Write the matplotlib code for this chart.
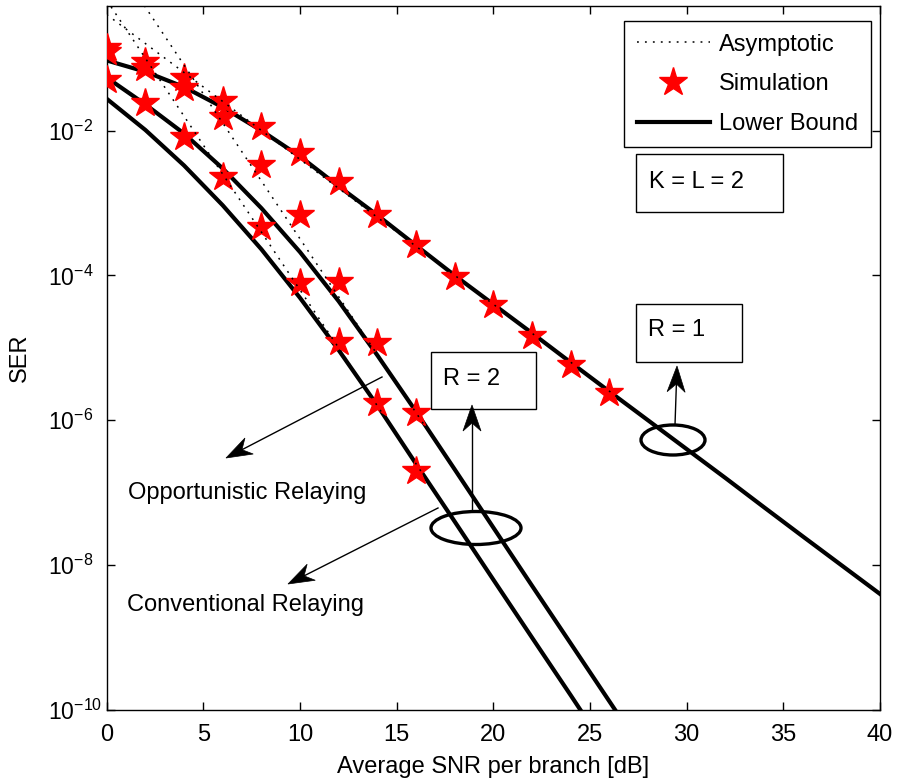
import numpy as np
import matplotlib
matplotlib.use("Agg")
import matplotlib.pyplot as plt
from matplotlib.patches import Ellipse, Rectangle, Polygon
from matplotlib.lines import Line2D
import matplotlib.transforms as mtransforms

plt.rcParams['font.family'] = ['Liberation Sans', 'DejaVu Sans']
plt.rcParams['mathtext.fontset'] = 'custom'
plt.rcParams['mathtext.rm'] = 'Liberation Sans'
plt.rcParams['mathtext.it'] = 'Liberation Sans:italic'
plt.rcParams['mathtext.bf'] = 'Liberation Sans:bold'

# ---------------- data ----------------
# Lower bound curves
snr_r1 = [0, 2, 4, 6, 8, 10, 12, 14, 16, 18, 20, 22, 24, 26, 28, 30, 32, 34, 36, 38, 40]
lb_r1 = [9.3e-2, 6.5e-2, 4.0e-2, 2.1e-2, 1.0e-2, 4.4e-3, 1.7e-3, 6.8e-4, 2.6e-4, 1.0e-4,
         4.0e-5, 1.6e-5, 6.3e-6, 2.5e-6, 1.0e-6, 4.0e-7, 1.6e-7, 6.3e-8, 2.5e-8, 1.0e-8, 4.0e-9]

snr_r2a = [0, 2, 4, 6, 8, 10, 12, 14, 16, 18, 20, 22, 24, 26, 28]
lb_r2a = [5.4e-2, 2.3e-2, 9.1e-3, 3.0e-3, 8.5e-4, 2.1e-4, 4.4e-5, 7.9e-6, 1.32e-6, 2.1e-7,
          3.3e-8, 5.2e-9, 8.3e-10, 1.32e-10, 2.1e-11]

snr_r2b = [0, 2, 4, 6, 8, 10, 12, 14, 16, 18, 20, 22, 24, 26]
lb_r2b = [2.75e-2, 1.02e-2, 3.3e-3, 9.3e-4, 2.3e-4, 4.9e-5, 9.3e-6, 1.6e-6, 2.5e-7, 4.0e-8,
          6.3e-9, 1.0e-9, 1.6e-10, 2.5e-11]

# Asymptotic curves
asym_snr = [0, 10, 20, 30, 40]
asym_r1 = [4.0e-1, 4.0e-3, 4.0e-5, 4.0e-7, 4.0e-9]
asym_snr2 = [0, 10, 20, 30]
asym_r2a = [3.2, 3.2e-4, 3.2e-8, 3.2e-12]
asym_r2b = [6.3e-1, 6.3e-5, 6.3e-9, 6.3e-13]

# Simulation points
sim_snr_r1 = [0, 2, 4, 6, 8, 10, 12, 14, 16, 18, 20, 22, 24, 26]
sim_r1 = [1.38e-1, 8.9e-2, 5.4e-2, 2.6e-2, 1.12e-2, 4.9e-3, 1.95e-3, 6.9e-4, 2.6e-4, 9.5e-5,
          3.9e-5, 1.45e-5, 5.8e-6, 2.4e-6]
sim_snr_r2 = [0, 2, 4, 6, 8, 10, 12, 14, 16]
sim_r2a = [1.23e-1, 7.2e-2, 3.9e-2, 1.55e-2, 3.4e-3, 6.9e-4, 8.1e-5, 1.17e-5, 1.26e-6]
sim_r2b = [5.0e-2, 2.4e-2, 8.1e-3, 2.3e-3, 4.7e-4, 7.9e-5, 1.2e-5, 1.74e-6, 2.0e-7]

xticks = [0, 5, 10, 15, 20, 25, 30, 35, 40]
yticks = [1e-10, 1e-8, 1e-6, 1e-4, 1e-2]
ytick_labels = [r'$10^{-10}$', r'$10^{-8}$', r'$10^{-6}$', r'$10^{-4}$', r'$10^{-2}$']

# ---------------- figure ----------------
W, H = 897, 782
fig = plt.figure(figsize=(W / 100, H / 100), dpi=100)
ax = fig.add_axes([106.7 / W, 1 - 710 / H, (880 - 106.7) / W, (710 - 6) / H])

FS = 17
TFS = 17
YFS = 16.5
dots = (0, (1.2, 4.0))

ax.plot(snr_r1, lb_r1, color='black', lw=3, zorder=2)
ax.plot(snr_r2a, lb_r2a, color='black', lw=3, zorder=2)
ax.plot(snr_r2b, lb_r2b, color='black', lw=3, zorder=2)

star_kw = dict(linestyle='none', marker='*', ms=21, mfc='red', mec='red', zorder=3)
ax.plot(sim_snr_r1, sim_r1, **star_kw)
ax.plot(sim_snr_r2, sim_r2a, **star_kw)
ax.plot(sim_snr_r2, sim_r2b, **star_kw)

ax.plot(asym_snr, asym_r1, color='black', lw=1.1, linestyle=dots, zorder=4)
ax.plot(asym_snr2, asym_r2a, color='black', lw=1.1, linestyle=dots, zorder=4)
ax.plot(asym_snr2, asym_r2b, color='black', lw=1.1, linestyle=dots, zorder=4)

ax.set_yscale('log')
ax.set_xlim(0, 40)
ax.set_ylim(1e-10, 0.525)
ax.set_xticks(xticks)
ax.set_xticklabels([str(t) for t in xticks])
ax.set_yticks(yticks)
ax.set_yticklabels(ytick_labels)
ax.yaxis.set_minor_locator(matplotlib.ticker.NullLocator())
ax.tick_params(direction='in', length=6, width=1, top=True, right=True)
ax.tick_params(axis='x', pad=10, labelsize=TFS)
ax.tick_params(axis='y', pad=(106.7 - 48) * 0.72, labelsize=YFS)
for lbl in ax.get_yticklabels():
    lbl.set_horizontalalignment('left')
    lbl.set_verticalalignment('center_baseline')
for s in ax.spines.values():
    s.set_linewidth(1)
ax.set_xlabel('Average SNR per branch [dB]', fontsize=FS, va='center')
ax.xaxis.set_label_coords(0.5, (710 - 767) / 704)
ax.set_ylabel('SER', fontsize=FS, va='center')
ax.yaxis.set_label_coords((20 - 106.7) / 773.3, 0.5)

# legend
handles = [Line2D([], [], color='black', lw=1.1, linestyle=dots),
           Line2D([], [], linestyle='none', marker='*', ms=21, mfc='red', mec='red'),
           Line2D([], [], color='black', lw=3)]
leg = ax.legend(handles, ['Asymptotic', 'Simulation', 'Lower Bound'],
                loc='upper right', bbox_to_anchor=(871 / W, 1 - 21 / H),
                bbox_transform=fig.transFigure, borderaxespad=0, fontsize=FS,
                frameon=True, fancybox=False, framealpha=1, edgecolor='black',
                handlelength=3.1, handletextpad=0.4, labelspacing=0.75,
                borderpad=0.53)
leg.get_frame().set_linewidth(1)

# ---------------- annotations (image pixel coordinates) ----------------
T = mtransforms.Affine2D().scale(1 / W, -1 / H).translate(0, 1) + fig.transFigure


def box(x0, y0, x1, y1, text, tx, ty):
    fig.add_artist(Rectangle((x0, y0), x1 - x0, y1 - y0, transform=T, fill=True,
                             facecolor='white', edgecolor='black', lw=1, zorder=6))
    fig.text(tx, ty, text, transform=T, ha='left', va='center', fontsize=FS, zorder=7)


def arrow(x0, y0, x1, y1, L=26, Wd=18, notch=8):
    d = np.array([x1 - x0, y1 - y0], dtype=float)
    n = d / np.hypot(*d)
    p = np.array([-n[1], n[0]])
    tip = np.array([x1, y1], dtype=float)
    back = tip - n * L
    nb = tip - n * (L - notch)
    fig.add_artist(Line2D([x0, nb[0]], [y0, nb[1]], transform=T, color='black',
                          lw=1, zorder=6))
    poly = [tip, back + p * Wd / 2, nb, back - p * Wd / 2]
    fig.add_artist(Polygon(poly, closed=True, transform=T, facecolor='black',
                           edgecolor='black', lw=0.5, zorder=6))


box(636, 154, 783, 212, 'K = L = 2', 649, 182)
box(636, 304, 742, 362, 'R = 1', 648, 330)
box(431, 352, 536, 409, 'R = 2', 443, 379)

fig.add_artist(Ellipse((673, 440), 64, 30, transform=T, fill=False, edgecolor='black',
                       lw=2.4, zorder=6))
fig.add_artist(Ellipse((476, 528), 90, 33, transform=T, fill=False, edgecolor='black',
                       lw=2.4, zorder=6))

arrow(675, 425, 677, 366)
arrow(472, 511, 472, 405)
arrow(382, 377, 226, 458)
arrow(438, 508, 288, 584)

fig.text(128, 493, 'Opportunistic Relaying', transform=T, ha='left', va='center',
         fontsize=FS, zorder=7)
fig.text(127, 605, 'Conventional Relaying', transform=T, ha='left', va='center',
         fontsize=FS, zorder=7)

fig.savefig('out.png', dpi=100)
